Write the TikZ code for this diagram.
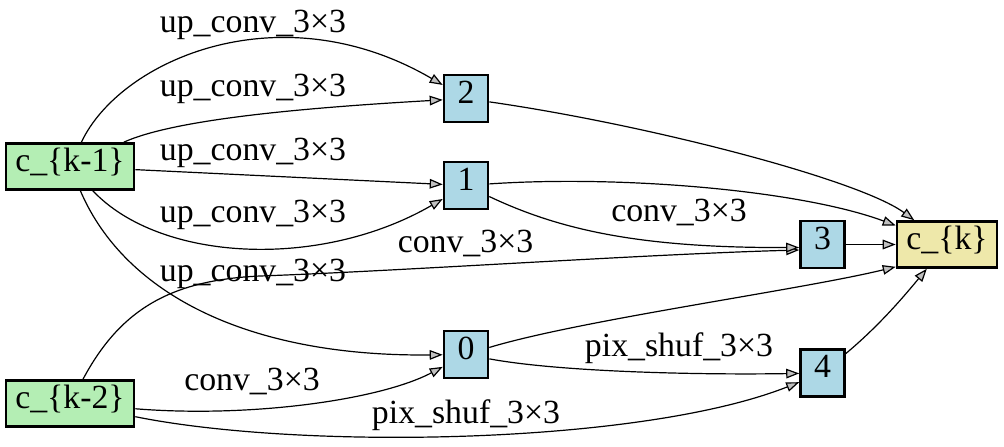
\documentclass[tikz,border=0pt]{standalone}
\usepackage{fontspec}
\setmainfont{Liberation Serif}
\usetikzlibrary{arrows.meta}
\definecolor{nodeblue}{HTML}{ADD8E6}
\definecolor{nodegreen}{HTML}{B4EEB4}
\definecolor{nodegold}{HTML}{EEE8AA}
\definecolor{tipgray}{HTML}{C0C0C0}
\begin{document}
\begin{tikzpicture}[x=0.5pt,y=-0.5pt,
  every node/.style={font=\fontsize{16.9}{20}\selectfont},
  box/.style={draw, line width=1.3pt, inner sep=0pt, text height=0.75em, text depth=0.26em},
  inbox/.style={box, fill=nodegreen, minimum width=64pt, minimum height=23pt},
  opbox/.style={box, fill=nodeblue, minimum width=22pt, minimum height=23.5pt},
  outbox/.style={box, fill=nodegold, minimum width=50pt, minimum height=23pt},
  lbl/.style={inner sep=0pt, anchor=base},
  edge/.style={line width=0.6pt, -{Triangle[length=6.5pt,width=4.8pt,fill=tipgray]}}
]
\useasboundingbox (0,0) rectangle (1004,446);

% cells
\node[inbox]  (k1) at (70,166.5)  {c\_\{k-1\}};
\node[inbox]  (k2) at (70,403.5)  {c\_\{k-2\}};
\node[opbox]  (n2) at (466,98.5)  {2};
\node[opbox]  (n1) at (466,185.5) {1};
\node[opbox]  (n0) at (466,354.5) {0};
\node[opbox]  (n3) at (822.5,244.5) {3};
\node[opbox]  (n4) at (822.5,373) {4};
\node[outbox] (ck) at (947,244.5) {c\_\{k\}};

% operation labels
\node[lbl] (l1) at (253,32)  {up\_conv\_3×3};
\node[lbl] (l2) at (253,96)  {up\_conv\_3×3};
\node[lbl] (l3) at (253,160) {up\_conv\_3×3};
\node[lbl] (l4) at (253,222.5) {up\_conv\_3×3};
\node[lbl] (l5) at (253,281.5) {up\_conv\_3×3};
\node[lbl] (l6) at (465.5,252.3) {conv\_3×3};
\node[lbl] (l7) at (252,390.7) {conv\_3×3};
\node[lbl] (l8) at (466,423.3) {pix\_shuf\_3×3};
\node[lbl] (l9) at (679,221.7) {conv\_3×3};
\node[lbl] (l10) at (679,356) {pix\_shuf\_3×3};

% edges
\coordinate (via) at (260,276);
\draw[edge] (k1) .. controls (120,60) and (280,-10) .. (n2);
\draw[edge] (k1) .. controls (174,119.5) and (300,108) .. (n2);
\draw[edge] (k1) -- (n1);
\draw[edge] (k1) .. controls (160,262) and (320,270) .. (n1);
\draw[edge] (k1) .. controls (125,295) and (250,357) .. (n0);
\draw[edge] (k2) .. controls (120,310) and (170,280) .. (via)
                 .. controls (400,271) and (650,254) .. ([yshift=-2.75pt]n3.west);
\draw[edge] (k2) .. controls (250,418) and (380,400) .. (n0);
\draw[edge] (k2) .. controls (300,450) and (640,445) .. (n4);
\draw[edge] (n1) .. controls (560,230) and (640,248) .. ([yshift=-1.5pt]n3.west);
\draw[edge] (n0) .. controls (560,372) and (700,375) .. (n4);
\draw[edge] (n2) .. controls (650,125) and (860,180) .. (ck);
\draw[edge] (n1) .. controls (620,175) and (800,190) .. (ck);
\draw[edge] (n3) -- (ck);
\draw[edge] (n0) .. controls (580,320) and (800,290) .. ([yshift=1pt]ck.south west);
\draw[edge] (n4) .. controls (880,325) and (905,295) .. (ck);
\end{tikzpicture}
\end{document}
